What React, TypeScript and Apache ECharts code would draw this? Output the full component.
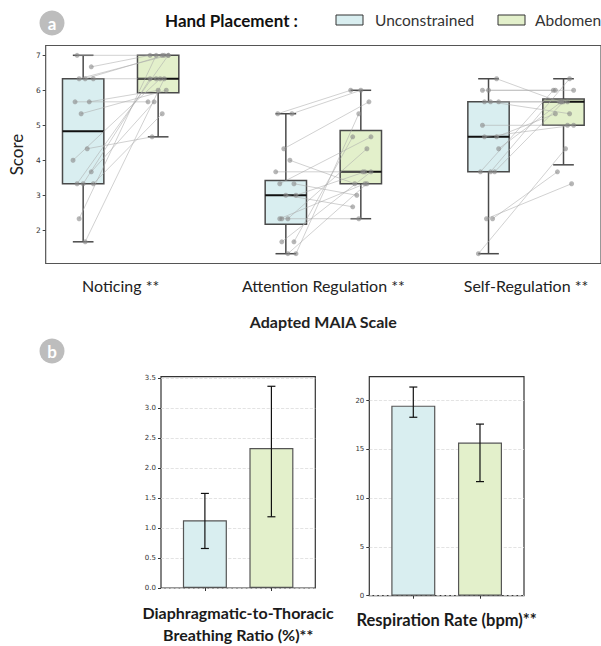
import React, { useEffect, useRef } from 'react';
import * as echarts from 'echarts';

// ---------- Panel a: Adapted MAIA scale ----------
const categories = ['Noticing **', 'Attention Regulation **', 'Self-Regulation **'];
const hues = ['Unconstrained', 'Abdomen'];
const yTicksA = [2, 3, 4, 5, 6, 7];

// box statistics: [min whisker, Q1, median, Q3, max whisker]
const boxUnconstrained = [
  [1.67, 3.33, 4.83, 6.33, 7.0],
  [1.33, 2.17, 3.0, 3.42, 5.33],
  [1.33, 3.67, 4.67, 5.67, 6.33],
];
const boxAbdomen = [
  [4.67, 5.93, 6.33, 7.0, 7.0],
  [2.33, 3.33, 3.67, 4.85, 6.0],
  [3.87, 5.0, 5.67, 5.75, 6.33],
];

// participant scores (paired, same order in U and A)
const noticingU = [7.0, 6.67, 6.33, 6.33, 6.33, 5.67, 5.67, 5.33, 4.33, 4.0, 3.67, 3.33, 3.33, 3.33, 2.33, 1.67];
const noticingA = [7.0, 7.0, 7.0, 6.33, 7.0, 5.67, 6.0, 6.0, 4.67, 6.33, 5.67, 7.0, 6.33, 5.33, 7.0, 6.33];
const attentionU = [5.33, 5.33, 4.33, 4.0, 3.67, 3.33, 3.33, 3.0, 3.0, 2.33, 2.33, 2.33, 1.67, 1.67, 1.33, 1.33];
const attentionA = [6.0, 6.0, 5.67, 3.33, 3.67, 3.0, 4.67, 2.67, 3.67, 2.33, 4.33, 3.33, 4.67, 3.67, 5.33, 3.33];
const selfRegU = [6.33, 6.0, 6.0, 5.67, 5.67, 5.67, 5.0, 4.67, 4.67, 4.33, 3.67, 3.67, 3.67, 2.33, 2.33, 1.33];
const selfRegA = [5.67, 6.0, 6.0, 5.67, 5.67, 5.33, 5.0, 5.33, 5.0, 5.67, 6.33, 6.0, 5.67, 3.33, 3.67, 4.33];

// strip-plot jitter (in category units)
const jitterU = [-0.03, 0.04, -0.02, 0.05, 0.01, -0.04, 0.03, -0.01, 0.02, -0.05, 0.04, -0.03, 0.0, 0.05, -0.02, 0.01];
const jitterA = [0.02, -0.04, 0.05, -0.01, 0.03, -0.05, 0.0, 0.04, -0.03, 0.01, -0.02, 0.05, -0.04, 0.02, -0.01, 0.03];

// ---------- Panel b: bars ----------
const ratioMeans = [1.13, 2.34];
const ratioLow = [0.66, 1.19];
const ratioHigh = [1.58, 3.37];
const ratioTicks = [0, 0.5, 1.0, 1.5, 2.0, 2.5, 3.0, 3.5];
const rateMeans = [19.49, 15.7];
const rateLow = [18.3, 11.7];
const rateHigh = [21.4, 17.6];
const rateTicks = [0, 5, 10, 15, 20];

const BLUE = '#d9eef0';
const GREEN = '#e3f0cb';
const FRAME = '#555555';
const LATO = 'Lato, "Noto Sans", sans-serif';
const TICKFONT = '"DejaVu Sans", sans-serif';

const HUE_OFFSET = 0.185;
const BOX_W = 0.204;

export default function App() {
  const ref = useRef<HTMLDivElement>(null);

  useEffect(() => {
    if (!ref.current) return;
    const chart = echarts.init(ref.current, null, { renderer: 'svg' });

    const groupsU = [noticingU, attentionU, selfRegU];
    const groupsA = [noticingA, attentionA, selfRegA];

    const boxData = (stats: number[][], h: number) =>
      stats.map((s, c) => [c + (h === 0 ? -HUE_OFFSET : HUE_OFFSET), ...s]);

    const pointData = (groups: number[][], h: number, jit: number[]) => {
      const out: number[][] = [];
      groups.forEach((vals, c) => {
        vals.forEach((v, i) => {
          out.push([c + (h === 0 ? -HUE_OFFSET : HUE_OFFSET) + jit[(i + c * 5) % jit.length], v]);
        });
      });
      return out;
    };
    const ptsU = pointData(groupsU, 0, jitterU);
    const ptsA = pointData(groupsA, 1, jitterA);
    const pairData = ptsU.map((p, i) => [p[0], p[1], ptsA[i][0], ptsA[i][1]]);

    const boxRender = (fill: string) => (params: any, api: any) => {
      const x = api.value(0);
      const lo = api.coord([x, api.value(1)]);
      const q1 = api.coord([x, api.value(2)]);
      const md = api.coord([x, api.value(3)]);
      const q3 = api.coord([x, api.value(4)]);
      const hi = api.coord([x, api.value(5)]);
      const w = api.size([BOX_W, 0])[0];
      const cx = lo[0];
      const st = { stroke: '#4a4a4a', lineWidth: 1.5 };
      return {
        type: 'group',
        children: [
          { type: 'line', shape: { x1: cx, y1: lo[1], x2: cx, y2: q1[1] }, style: st },
          { type: 'line', shape: { x1: cx, y1: q3[1], x2: cx, y2: hi[1] }, style: st },
          { type: 'line', shape: { x1: cx - w / 4, y1: lo[1], x2: cx + w / 4, y2: lo[1] }, style: st },
          { type: 'line', shape: { x1: cx - w / 4, y1: hi[1], x2: cx + w / 4, y2: hi[1] }, style: st },
          { type: 'rect', shape: { x: cx - w / 2, y: q3[1], width: w, height: q1[1] - q3[1] }, style: { fill, stroke: '#4a4a4a', lineWidth: 1.5 } },
          { type: 'line', shape: { x1: cx - w / 2, y1: md[1], x2: cx + w / 2, y2: md[1] }, style: { stroke: '#111', lineWidth: 2 } },
        ],
      };
    };

    const errRender = (params: any, api: any) => {
      const x = api.value(0);
      const lo = api.coord([x, api.value(1)]);
      const hi = api.coord([x, api.value(2)]);
      const st = { stroke: '#111', lineWidth: 1.2 };
      return {
        type: 'group',
        children: [
          { type: 'line', shape: { x1: lo[0], y1: lo[1], x2: hi[0], y2: hi[1] }, style: st },
          { type: 'line', shape: { x1: lo[0] - 4, y1: lo[1], x2: lo[0] + 4, y2: lo[1] }, style: st },
          { type: 'line', shape: { x1: hi[0] - 4, y1: hi[1], x2: hi[0] + 4, y2: hi[1] }, style: st },
        ],
      };
    };

    const tickLabel = { fontFamily: TICKFONT, fontSize: 7.5, color: '#333' };

    const option: any = {
      animation: false,
      backgroundColor: '#fff',
      grid: [
        { left: 43, top: 45.5, width: 563, height: 218, show: true, borderColor: FRAME, borderWidth: 1.2, backgroundColor: 'transparent' },
        { left: 161, top: 376.7, width: 154.3, height: 219, show: true, borderColor: '#333', borderWidth: 1.2, backgroundColor: 'transparent' },
        { left: 369.3, top: 376.7, width: 154.7, height: 219, show: true, borderColor: '#333', borderWidth: 1.2, backgroundColor: 'transparent' },
      ],
      xAxis: [
        {
          type: 'value', gridIndex: 0, min: -0.37, max: 2.37,
          axisLine: { show: false, onZero: false }, splitLine: { show: false },
          axisTick: { show: false, customValues: [0, 1, 2] },
          axisLabel: {
            customValues: [0, 1, 2], margin: 14, fontSize: 16, fontFamily: LATO, color: '#222',
            formatter: (v: number) => categories[Math.round(v)] ?? '',
          },
          name: 'Adapted MAIA Scale', nameLocation: 'middle', nameGap: 50,
          nameTextStyle: { fontSize: 16, fontWeight: 'bold', fontFamily: LATO, color: '#222' },
        },
        {
          type: 'value', gridIndex: 1, min: -0.66, max: 1.66,
          axisLine: { show: false, onZero: false }, splitLine: { show: false },
          axisTick: { show: true, customValues: [0, 1], length: 3, lineStyle: { color: '#333' } },
          axisLabel: { show: false, customValues: [0, 1] },
          name: 'Diaphragmatic-to-Thoracic\nBreathing Ratio (%)**', nameLocation: 'middle', nameGap: 13,
          nameTextStyle: { fontSize: 16, fontWeight: 'bold', fontFamily: LATO, color: '#1a1a1a', lineHeight: 22, verticalAlign: 'top' },
        },
        {
          type: 'value', gridIndex: 2, min: -0.66, max: 1.66,
          axisLine: { show: false, onZero: false }, splitLine: { show: false },
          axisTick: { show: true, customValues: [0, 1], length: 3, lineStyle: { color: '#333' } },
          axisLabel: { show: false, customValues: [0, 1] },
          name: 'Respiration Rate (bpm)**', nameLocation: 'middle', nameGap: 13,
          nameTextStyle: { fontSize: 16.5, fontWeight: 'bold', fontFamily: LATO, color: '#1a1a1a', lineHeight: 22, verticalAlign: 'top' },
        },
      ],
      yAxis: [
        {
          type: 'value', gridIndex: 0, min: 1.05, max: 7.28,
          axisLine: { show: false, onZero: false }, splitLine: { show: false },
          axisTick: { show: true, customValues: yTicksA, length: 3, lineStyle: { color: '#444' } },
          axisLabel: { customValues: yTicksA, margin: 5, ...tickLabel },
          name: 'Score', nameLocation: 'middle', nameGap: 16,
          nameTextStyle: { fontSize: 17, fontFamily: LATO, color: '#222' },
        },
        {
          type: 'value', gridIndex: 1, min: 0, max: 3.53,
          axisLine: { show: false, onZero: false },
          splitLine: { show: true, lineStyle: { color: '#dcdcdc', type: 'dashed', width: 0.8 } },
          axisTick: { show: true, customValues: ratioTicks, length: 3, lineStyle: { color: '#333' } },
          axisLabel: { customValues: ratioTicks, margin: 5, ...tickLabel, fontSize: 7, formatter: (v: number) => v.toFixed(1) },
        },
        {
          type: 'value', gridIndex: 2, min: 0, max: 22.46,
          axisLine: { show: false, onZero: false },
          splitLine: { show: true, lineStyle: { color: '#dcdcdc', type: 'dashed', width: 0.8 } },
          axisTick: { show: true, customValues: rateTicks, length: 3, lineStyle: { color: '#333' } },
          axisLabel: { customValues: rateTicks, margin: 5, ...tickLabel, fontSize: 7 },
        },
      ],
      series: [
        {
          type: 'custom', name: hues[0], xAxisIndex: 0, yAxisIndex: 0, z: 2,
          data: boxData(boxUnconstrained, 0), renderItem: boxRender(BLUE),
          encode: { x: 0, y: [1, 2, 3, 4, 5] }, itemStyle: { color: BLUE },
        },
        {
          type: 'custom', name: hues[1], xAxisIndex: 0, yAxisIndex: 0, z: 2,
          data: boxData(boxAbdomen, 1), renderItem: boxRender(GREEN),
          encode: { x: 0, y: [1, 2, 3, 4, 5] }, itemStyle: { color: GREEN },
        },
        {
          type: 'custom', name: 'pairs', xAxisIndex: 0, yAxisIndex: 0, z: 3,
          data: pairData,
          encode: { x: [0, 2], y: [1, 3] },
          renderItem: (params: any, api: any) => {
            const a = api.coord([api.value(0), api.value(1)]);
            const b = api.coord([api.value(2), api.value(3)]);
            return { type: 'line', shape: { x1: a[0], y1: a[1], x2: b[0], y2: b[1] }, style: { stroke: 'rgba(170,170,170,0.6)', lineWidth: 0.9 } };
          },
        },
        {
          type: 'scatter', name: 'ptsU', xAxisIndex: 0, yAxisIndex: 0, z: 4,
          data: ptsU, symbolSize: 5, itemStyle: { color: 'rgba(135,135,135,0.75)' },
        },
        {
          type: 'scatter', name: 'ptsA', xAxisIndex: 0, yAxisIndex: 0, z: 4,
          data: ptsA, symbolSize: 5, itemStyle: { color: 'rgba(135,135,135,0.75)' },
        },
        {
          type: 'bar', name: 'ratio', xAxisIndex: 1, yAxisIndex: 1, barWidth: 44, z: 2,
          data: ratioMeans.map((v, i) => ({ value: [i, v], itemStyle: { color: i === 0 ? BLUE : GREEN } })),
          itemStyle: { borderColor: '#555', borderWidth: 1.2 },
        },
        {
          type: 'custom', name: 'ratioErr', xAxisIndex: 1, yAxisIndex: 1, z: 3,
          data: ratioMeans.map((_, i) => [i, ratioLow[i], ratioHigh[i]]),
          encode: { x: 0, y: [1, 2] }, renderItem: errRender,
        },
        {
          type: 'bar', name: 'rate', xAxisIndex: 2, yAxisIndex: 2, barWidth: 44, z: 2,
          data: rateMeans.map((v, i) => ({ value: [i, v], itemStyle: { color: i === 0 ? BLUE : GREEN } })),
          itemStyle: { borderColor: '#555', borderWidth: 1.2 },
        },
        {
          type: 'custom', name: 'rateErr', xAxisIndex: 2, yAxisIndex: 2, z: 3,
          data: rateMeans.map((_, i) => [i, rateLow[i], rateHigh[i]]),
          encode: { x: 0, y: [1, 2] }, renderItem: errRender,
        },
      ],
      graphic: [
        { type: 'circle', shape: { cx: 52, cy: 23, r: 12.5 }, style: { fill: '#bdbdbd' } },
        { type: 'text', x: 52, y: 23, style: { text: 'a', fill: '#fff', font: `bold 17px ${LATO}`, align: 'center', verticalAlign: 'middle' } },
        { type: 'circle', shape: { cx: 52, cy: 351, r: 12.5 }, style: { fill: '#bdbdbd' } },
        { type: 'text', x: 52, y: 351, style: { text: 'b', fill: '#fff', font: `bold 17px ${LATO}`, align: 'center', verticalAlign: 'middle' } },
        { type: 'text', x: 165, y: 20, style: { text: 'Hand Placement :', fill: '#111', font: `bold 17px ${LATO}`, align: 'left', verticalAlign: 'middle' } },
        { type: 'rect', shape: { x: 336, y: 15, width: 27, height: 10 }, style: { fill: BLUE, stroke: '#333', lineWidth: 1 } },
        { type: 'text', x: 375, y: 20, style: { text: hues[0], fill: '#333', font: `15.5px ${LATO}`, align: 'left', verticalAlign: 'middle' } },
        { type: 'rect', shape: { x: 498, y: 15, width: 27, height: 10 }, style: { fill: GREEN, stroke: '#333', lineWidth: 1 } },
        { type: 'text', x: 535, y: 20, style: { text: hues[1], fill: '#333', font: `15.5px ${LATO}`, align: 'left', verticalAlign: 'middle' } },
      ],
    };

    chart.setOption(option);
    return () => chart.dispose();
  }, []);

  return <div ref={ref} style={{ position: 'absolute', left: 0, top: 0, width: 601, height: 646 }} />;
}
